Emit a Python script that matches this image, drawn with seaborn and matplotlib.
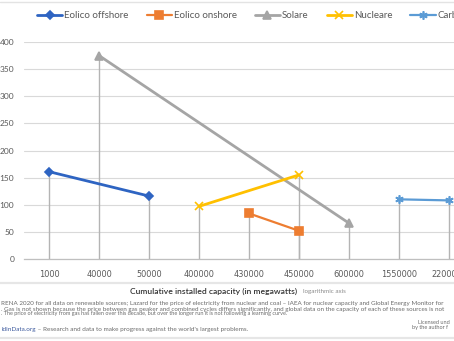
import matplotlib
matplotlib.use("Agg")
import matplotlib.pyplot as plt
import seaborn as sns
import pandas as pd

# Capacity milestones used as evenly spaced category labels
categories = ["1000", "40000", "50000", "400000", "430000",
              "450000", "600000", "1550000", "2200000"]

offshore_cap = ["1000", "50000"]
offshore_price = [161, 116]

onshore_cap = ["430000", "450000"]
onshore_price = [84, 52]

solar_cap = ["40000", "600000"]
solar_price = [375, 66]

nuclear_cap = ["400000", "450000"]
nuclear_price = [97, 155]

coal_cap = ["1550000", "2200000"]
coal_price = [110, 108]

series_names = ["Eolico offshore", "Eolico onshore", "Solare", "Nucleare", "Carbone"]
series_caps = [offshore_cap, onshore_cap, solar_cap, nuclear_cap, coal_cap]
series_prices = [offshore_price, onshore_price, solar_price, nuclear_price, coal_price]

colors = ["#2E64C2", "#ED7D31", "#A5A5A5", "#FFC000", "#5B9BD5"]
markers = ["D", "s", "^", "x", (6, 2, 0)]
msizes = [4, 6, 6, 6, 6]
lwidths = [2.0, 1.6, 2.0, 2.0, 1.6]

frames = []
for name, caps, prices in zip(series_names, series_caps, series_prices):
    frames.append(pd.DataFrame({
        "series": name,
        "capacity": caps,
        "pos": [categories.index(c) for c in caps],
        "price": prices,
    }))
df = pd.concat(frames, ignore_index=True)

sns.set_theme(style="white")
plt.rcParams["font.family"] = ["Lato", "DejaVu Sans"]

W, H = 454, 341
fig = plt.figure(figsize=(W / 100, H / 100), dpi=100)
ax = fig.add_axes([24 / W, 82 / H, 450 / W, 217 / H])

# drop lines from every point down to the axis
ax.vlines(df["pos"], 0, df["price"], color="#B4B4B4", lw=1.0, zorder=1.5)

handles = []
for name, col, mk, ms, lw in zip(series_names, colors, markers, msizes, lwidths):
    sub = df[df["series"] == name]
    sns.lineplot(data=sub, x="pos", y="price", ax=ax, color=col, marker=mk,
                 markersize=ms, markeredgecolor=col, markeredgewidth=1.2,
                 linewidth=lw, label=name, zorder=3, legend=False)
    handles.append(ax.lines[-1])

ax.set_xlim(-0.5, len(categories) - 0.5)
ax.set_ylim(0, 400)
ax.set_xticks(range(len(categories)))
ax.set_xticklabels(categories, fontsize=5.9, color="#595959",
                   family=["DejaVu Sans"])
ax.set_yticks(range(0, 401, 50))
ax.tick_params(axis="y", length=0, pad=7, labelsize=6.0, labelcolor="#595959")
ax.tick_params(axis="x", length=0, pad=8)
ax.set_xlabel("")
ax.set_ylabel("")
ax.grid(axis="y", color="#D9D9D9", lw=0.8)
ax.grid(axis="x", visible=False)
for s in ["left", "right", "top"]:
    ax.spines[s].set_visible(False)
ax.spines["bottom"].set_color("#BFBFBF")
ax.spines["bottom"].set_linewidth(0.9)

fig.legend(handles=handles, labels=series_names, loc="center left",
           bbox_to_anchor=(37 / W, 1 - 16 / H), ncol=5, frameon=False,
           fontsize=7.0, labelcolor="#595959", handlelength=2.6,
           handletextpad=0.2, columnspacing=1.85, borderpad=0,
           borderaxespad=0)

# frame lines
for yy, c, lw in [(2, "#E3E3E3", 1.0), (283, "#E6E6E6", 1.6), (337.5, "#E6E6E6", 1.6)]:
    fig.add_artist(plt.Line2D([0, 1], [1 - yy / H, 1 - yy / H], color=c, lw=lw,
                              transform=fig.transFigure))

fig.text(214 / W, 1 - 291 / H, "Cumulative installed capacity (in megawatts)",
         ha="center", va="center", fontsize=6.1, color="#333333",
         fontweight="semibold")
fig.text(303 / W, 1 - 291 / H, "logarithmic axis", ha="left", va="center",
         fontsize=4.5, color="#8C8C8C")

renderer = fig.canvas.get_renderer()


def fitted_size(s, target_px, base=10.0):
    t = fig.text(0, 0, s, fontsize=base)
    w = t.get_window_extent(renderer).width
    t.remove()
    return base * target_px / w


note_color = "#6B6B6B"
notes = [
    ("RENA 2020 for all data on renewable sources; Lazard for the price of "
     "electricity from nuclear and coal \u2013 IAEA for nuclear capacity and Global Energy "
     "Monitor for", 303.5, 440),
    (". Gas is not shown because the price between gas peaker and combined cycles "
     "differs significantly, and global data on the capacity of each of these sources is not",
     309, 440),
    (". The price of electricity from gas has fallen over this decade, "
     "but over the longer run it is not following a learning curve.", 314, 288),
]
for txt, yy, width in notes:
    fs = fitted_size(txt, width)
    fig.text(1 / W, 1 - yy / H, txt, ha="left", va="center", fontsize=fs,
             color=note_color)
base_fs = fitted_size(notes[2][0], 288)

site = "ldinData.org"
rest = " \u2013 Research and data to make progress against the world's largest problems."
fs4 = fitted_size(site + rest, 246)
t_site = fig.text(1 / W, 1 - 330 / H, site, ha="left", va="center",
                  fontsize=fs4, color="#3D5A9E")
site_w = t_site.get_window_extent(renderer).width
fig.text((1 + site_w) / W, 1 - 330 / H, rest, ha="left", va="center",
         fontsize=fs4, color=note_color)

fig.text(418 / W, 1 - 322.5 / H, "Licensed und", ha="left", va="center",
         fontsize=base_fs, color=note_color)
fig.text(412 / W, 1 - 327.7 / H, "by the author f", ha="left", va="center",
         fontsize=base_fs, color=note_color)

fig.savefig("out.png", dpi=100)
